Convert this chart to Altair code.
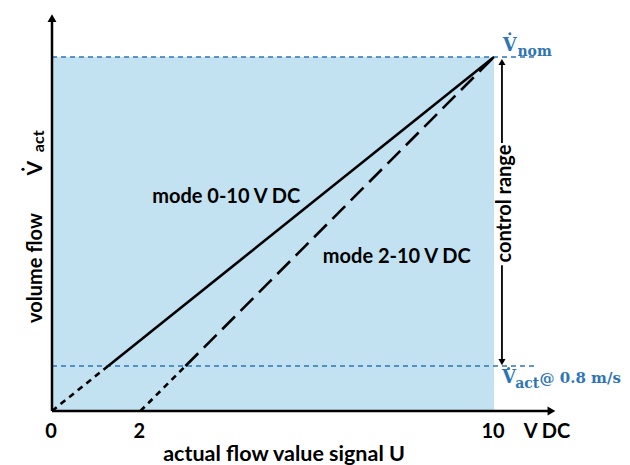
import altair as alt
import pandas as pd

# ---- values ----
x_ticks = [0, 2, 10]
x_tick_labels = ["0", "2", "10"]
x_end = 10          # V DC
v_nom = 100         # nominal flow (relative)
v_min = 12.7        # flow @ 0.8 m/s (relative)

# mode 0-10 V DC line
m1_low_x = [0, 1.27]
m1_low_y = [0, 12.7]
m1_high_x = [1.27, 10]
m1_high_y = [12.7, 100]
# mode 2-10 V DC line
m2_low_x = [2, 3.02]
m2_low_y = [0, 12.7]
m2_high_x = [3.02, 10]
m2_high_y = [12.7, 100]

# control range arrow (drawn in data units)
ctrl_x = 10.18
ctrl_top = [98.6, 75.7]
ctrl_bottom = [41.2, 13.8]

axis_y_top = 111.0
axis_x_end = 11.3
guide_x_end = 10.97

W, H = 614, 457
xs = alt.Scale(domain=[-0.9955, 12.896], nice=False, zero=False)
ys = alt.Scale(domain=[-15.26, 113.84], nice=False, zero=False)

BLUE = "#2e75b6"
FONT = "Lato"
SERIF = "DejaVu Serif"


def X(f="x"):
    return alt.X(f + ":Q", scale=xs, axis=None)


def Y(f="y"):
    return alt.Y(f + ":Q", scale=ys, axis=None)


area = alt.Chart(pd.DataFrame({"x": [0], "x2": [x_end], "y": [0], "y2": [v_nom]})).mark_rect(
    color="#c2e1f1"
).encode(x=X(), x2="x2:Q", y=Y(), y2="y2:Q")

guides = alt.Chart(
    pd.DataFrame({"x": [0, 0], "x2": [guide_x_end, guide_x_end], "y": [v_nom, v_min]})
).mark_rule(color=BLUE, strokeWidth=1.3, strokeDash=[5, 4]).encode(x=X(), x2="x2:Q", y=Y())


def seg(xv, yv, dash=None, w=2.6):
    kw = dict(color="black", strokeWidth=w, strokeCap="butt")
    if dash:
        kw["strokeDash"] = dash
    return alt.Chart(pd.DataFrame({"x": xv, "y": yv})).mark_line(**kw).encode(x=X(), y=Y())


lines = [
    seg(m1_low_x, m1_low_y, [6, 5]),
    seg(m1_high_x, m1_high_y),
    seg(m2_low_x, m2_low_y, [6, 5]),
    seg(m2_high_x, m2_high_y, [18, 8]),
]

axes = alt.Chart(
    pd.DataFrame({"x": [0, 0], "x2": [0, axis_x_end], "y": [0, 0], "y2": [axis_y_top, 0]})
).mark_rule(color="black", strokeWidth=2.5).encode(x=X(), x2="x2:Q", y=Y(), y2="y2:Q")

ctrl = alt.Chart(
    pd.DataFrame({"x": [ctrl_x, ctrl_x], "y": [ctrl_top[0], ctrl_bottom[0]], "y2": [ctrl_top[1], ctrl_bottom[1]]})
).mark_rule(color="black", strokeWidth=1.8).encode(x=X(), y=Y(), y2="y2:Q")


def arrow(xv, yv, shape, size=70):
    return alt.Chart(pd.DataFrame({"x": [xv], "y": [yv]})).mark_point(
        shape=shape, filled=True, color="black", size=size, opacity=1
    ).encode(x=X(), y=Y())


def dot(xv, yv, color, size=9):
    return alt.Chart(pd.DataFrame({"x": [xv], "y": [yv]})).mark_point(
        shape="circle", filled=True, color=color, size=size, opacity=1
    ).encode(x=X(), y=Y())


arrows = [
    arrow(0, axis_y_top, "triangle-up", 80),
    arrow(axis_x_end, 0, "triangle-right", 80),
    arrow(ctrl_x, ctrl_top[0], "triangle-up", 50),
    arrow(ctrl_x, ctrl_bottom[1], "triangle-down", 50),
]


def txt(xv, yv, s, size=20, align="center", baseline="alphabetic", angle=0, color="black",
        font=FONT, weight="bold", dx=0, dy=0):
    return alt.Chart(pd.DataFrame({"x": [xv], "y": [yv], "t": [s]})).mark_text(
        fontSize=size, align=align, baseline=baseline, angle=angle, color=color,
        font=font, fontWeight=weight, dx=dx, dy=dy
    ).encode(x=X(), y=Y(), text="t:N")


ticks = alt.Chart(pd.DataFrame({"x": x_ticks, "y": [0] * 3, "t": x_tick_labels})).mark_text(
    fontSize=20, fontWeight="bold", font=FONT, baseline="alphabetic", dy=27, dx=-1
).encode(x=X(), y=Y(), text="t:N")

texts = [
    ticks,
    txt(11.2, 0, "V DC", dy=27),
    txt(5.25, 0, "actual flow value signal U", size=21.5, dy=50),
    txt(3.94, 60.5, "mode 0-10 V DC", baseline="middle"),
    txt(7.8, 43.5, "mode 2-10 V DC", baseline="middle"),
    txt(10.38, 58.6, "control range", angle=270),
    txt(-0.226, 40.4, "volume flow", angle=270),
    # V-dot act on the y axis
    txt(-0.226, 68.6, "V", size=21, angle=270),
    dot(-0.656, 68.3, "black", 10),
    txt(-0.19, 76.2, "act", size=16, angle=270),
    # V-dot nom
    txt(10.20, 101.7, "V", size=18, align="left", color=BLUE, font=SERIF),
    dot(10.36, 106.6, BLUE, 9),
    txt(10.53, 100.3, "nom", size=14, align="left", color=BLUE, font=SERIF),
    # V-dot act @ 0.8 m/s
    txt(10.18, 7.9, "V", size=18, align="left", color=BLUE, font=SERIF),
    dot(10.33, 12.0, BLUE, 9),
    txt(10.48, 6.5, "act", size=14, align="left", color=BLUE, font=SERIF),
    txt(11.03, 7.9, "@ 0.8 m/s", size=15, align="left", color=BLUE, font=SERIF),
]

chart = alt.layer(area, guides, *lines, axes, ctrl, *arrows, *texts).properties(
    width=W, height=H, padding=0, autosize=alt.AutoSizeParams(type="none")
).configure_view(stroke=None)

chart.save("out.html", embed_options={"renderer": "svg", "actions": False})
